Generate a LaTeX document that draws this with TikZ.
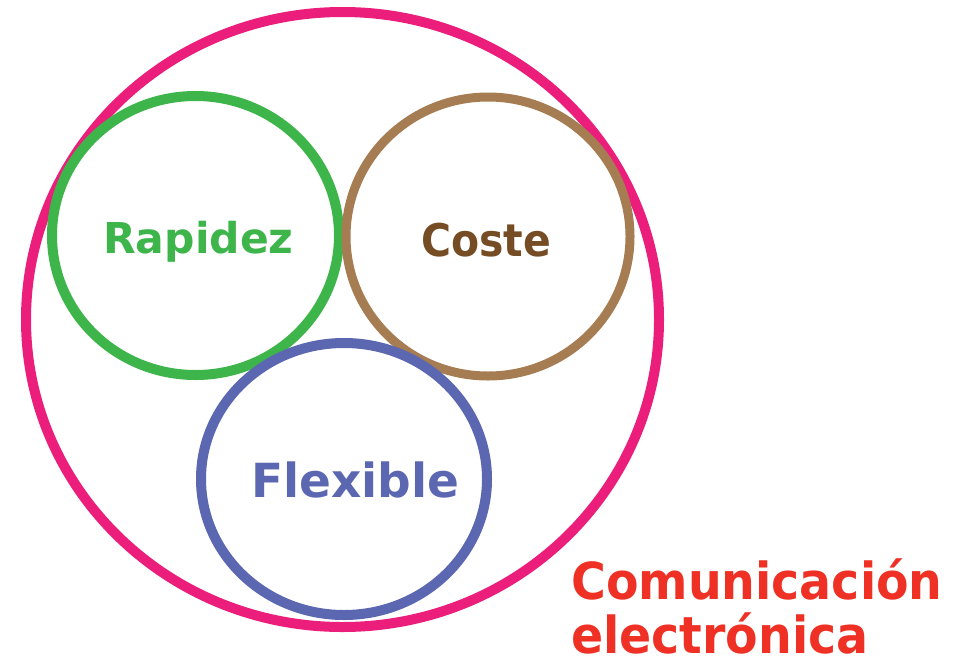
\documentclass[tikz,border=0pt]{standalone}
\usepackage{fontspec}
\setmainfont{DejaVu Sans}
\newfontfamily\narrowfont[FakeStretch=0.93]{DejaVu Sans}
\newfontfamily\costefont[FakeStretch=0.91]{DejaVu Sans}
\definecolor{cpink}{HTML}{EC1E7B}
\definecolor{cgreen}{HTML}{3DB54A}
\definecolor{cbrownc}{HTML}{A67C52}
\definecolor{cbrownt}{HTML}{754C24}
\definecolor{cblue}{HTML}{5B67B0}
\definecolor{cred}{HTML}{EE3124}
\begin{document}
\begin{tikzpicture}[x=1pt,y=-1pt,
  ring/.style={line width=10pt},
  lbl/.style={anchor=base west,inner sep=0pt}]
\useasboundingbox (0,0) rectangle (957,659);
\draw[ring,cpink] (342.5,319.5) ellipse [x radius=316.5,y radius=307.5];
\draw[ring,cgreen] (195.5,235.5) ellipse [x radius=143.5,y radius=139.5];
\draw[ring,cbrownc,line width=9pt] (488,236.5) ellipse [x radius=142,y radius=139.5];
\draw[ring,cblue] (344,479) ellipse [x radius=143,y radius=136];
\node[lbl,text=cgreen,font=\bfseries\fontsize{42.5}{50}\selectfont] (rap) at (103,253) {Rapidez};
\node[lbl,text=cbrownt,font=\costefont\bfseries\fontsize{45}{50}\selectfont] (cos) at (421,256) {Coste};
\node[lbl,text=cblue,font=\bfseries\fontsize{47}{50}\selectfont] (fle) at (251,497) {Flexible};
\node[lbl,text=cred,font=\narrowfont\bfseries\fontsize{51}{55}\selectfont] (com) at (571,599) {Comunicación};
\node[lbl,text=cred,font=\narrowfont\bfseries\fontsize{51}{55}\selectfont] (ele) at (571,653) {electrónica};
\end{tikzpicture}
\end{document}
